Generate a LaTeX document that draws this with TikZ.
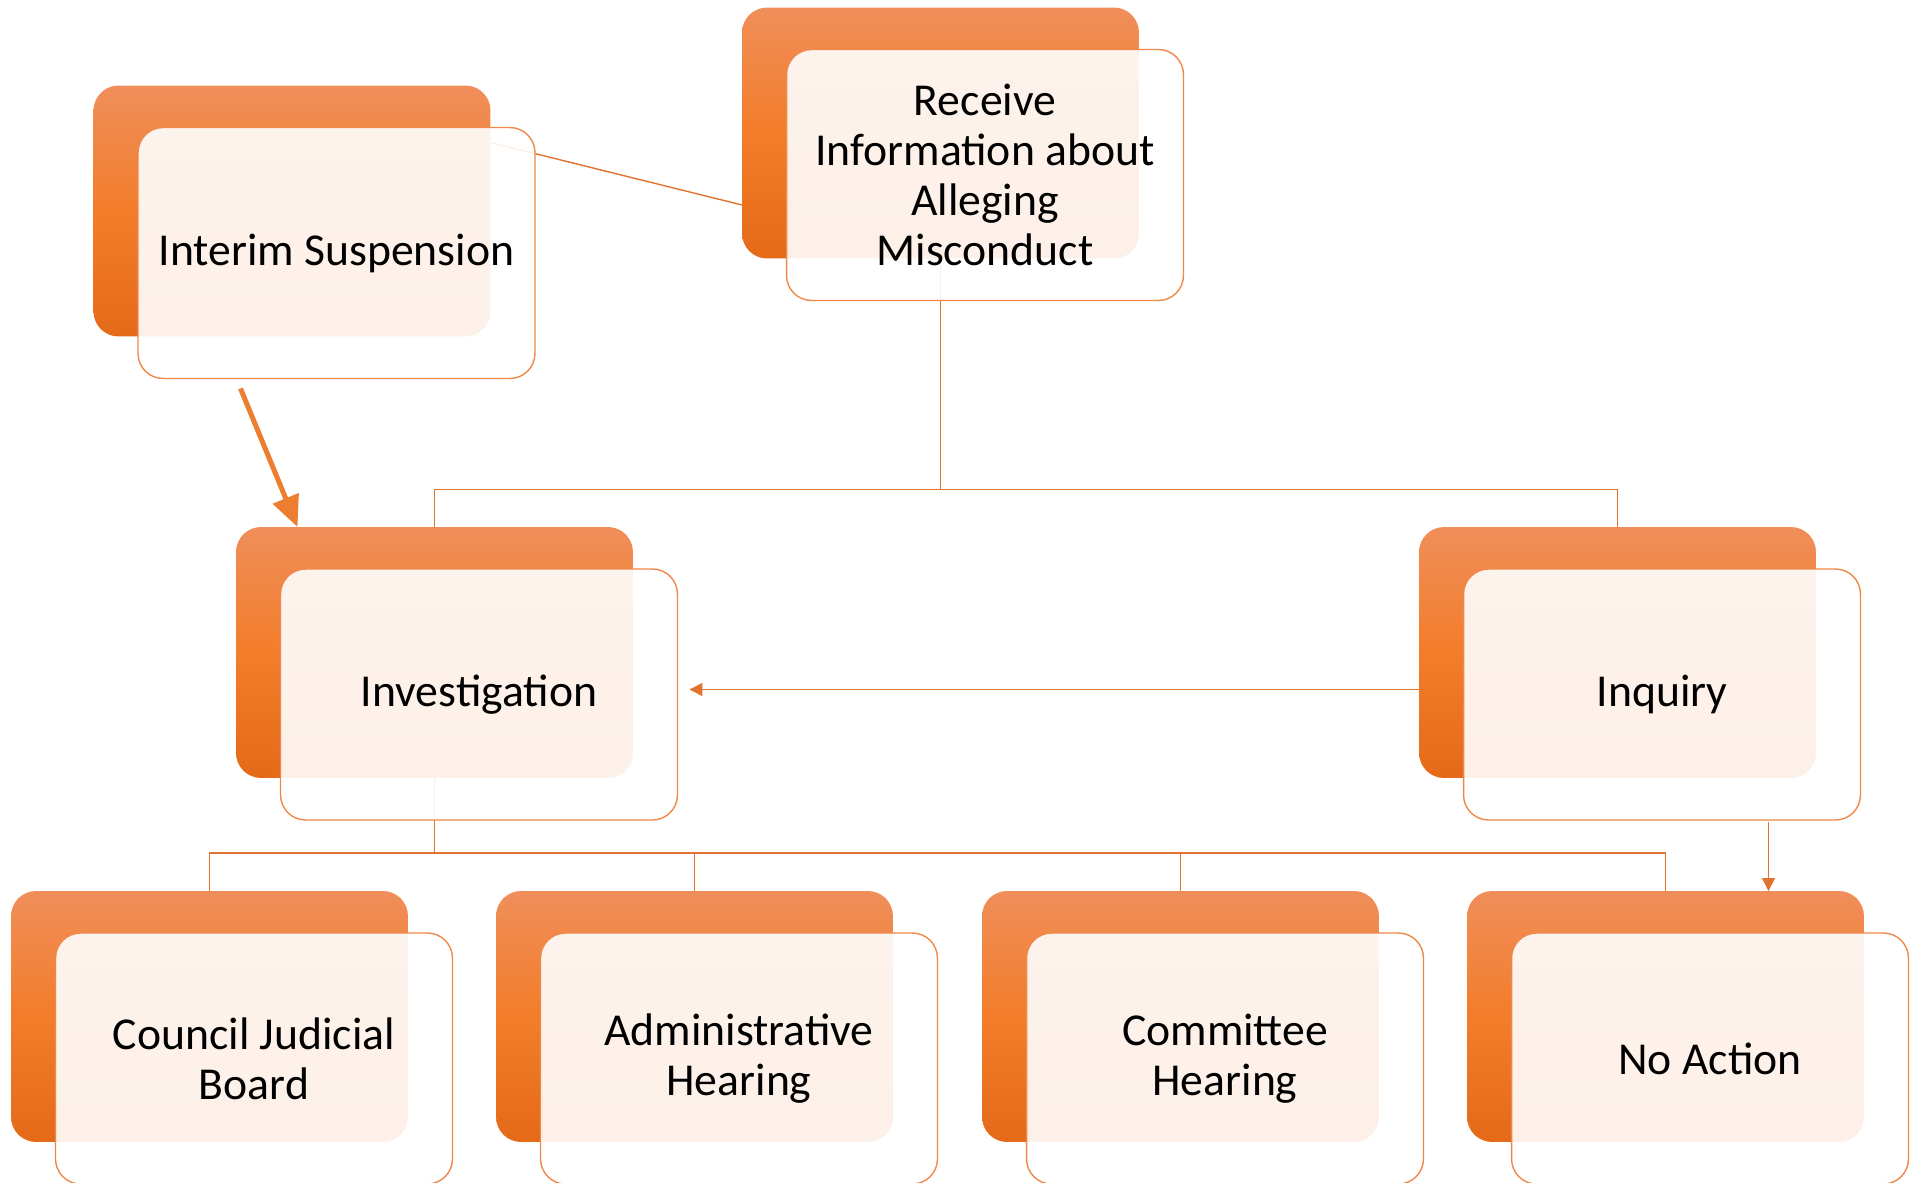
\documentclass[tikz,border=0pt]{standalone}
\usepackage{fontspec}
\setmainfont{Carlito}
\usepackage{xcolor}
\usepackage{tikz}
\usetikzlibrary{positioning, calc, arrows.meta}

\definecolor{accent}{HTML}{ED7D31}
\definecolor{backtop}{HTML}{F08E5A}
\definecolor{backmid}{HTML}{F27D2A}
\definecolor{backbot}{HTML}{E46A18}
\definecolor{edgec}{HTML}{F0884A}
\definecolor{linkc}{HTML}{E07330}

\pgfdeclarelayer{bg}
\pgfsetlayers{bg,main}

\tikzset{
  backbox/.style={rounded corners=0.5cm, minimum width=7.94cm, minimum height=5.02cm,
    inner sep=0pt, outer sep=0pt, top color=backtop, bottom color=backbot, middle color=backmid},
  frontbox/.style={rounded corners=0.5cm, minimum width=7.94cm, minimum height=5.02cm,
    inner sep=0pt, outer sep=0pt, draw=edgec, line width=0.8pt, fill=white, fill opacity=0.9,
    text opacity=1, align=center, font=\fontsize{26}{28.4}\selectfont},
  link/.style={draw=linkc, line width=0.8pt},
  thinarrow/.style={link, -{Triangle[length=0.26cm, width=0.26cm]}},
  bigarrow/.style={draw=accent, line width=0.1cm, -{Triangle[length=0.62cm, width=0.54cm]}}
}

\begin{document}
\begin{tikzpicture}[x=0.02cm, y=-0.02cm]
  \useasboundingbox (0,0) rectangle (1917,1183);
  % Top: report and interim suspension
  \node[backbox] (recvB) at (940.5,133) {};
  \node[frontbox] (recv) at ($(recvB)+(44.5,42)$) {Receive\\Information about\\Alleging\\Misconduct};
  \node[backbox] (suspB) at (292,211) {};
  \node[frontbox] (susp) at ($(suspB)+(44.5,42)$) {Interim Suspension};
  % Middle row
  \node[backbox] (invB) at (434.5,652.5) {};
  \node[frontbox] (inv) at ($(invB)+(44.5,42)$) {Investigation};
  \node[backbox] (inqB) at (1617.5,652.5) {};
  \node[frontbox] (inq) at ($(inqB)+(44.5,42)$) {Inquiry};
  % Bottom row: outcomes
  \node[backbox] (cjbB) at (209.5,1016.5) {};
  \node[frontbox] (cjb) at ($(cjbB)+(44.5,42)$) {Council Judicial\\Board};
  \node[backbox] (ahB) at (694.5,1016.5) {};
  \node[frontbox] (ah) at ($(ahB)+(44.5,42)$) {Administrative\\Hearing};
  \node[backbox] (chB) at (1180.5,1016.5) {};
  \node[frontbox] (ch) at ($(chB)+(44.5,42)$) {Committee\\Hearing};
  \node[backbox] (naB) at (1665.5,1016.5) {};
  \node[frontbox] (na) at ($(naB)+(44.5,42)$) {No Action};

  % Connectors, behind the boxes
  \begin{pgfonlayer}{bg}
    \coordinate (bus1) at ($(recvB.south)+(0,231)$);
    \coordinate (bus2) at ($(invB.south)+(0,75)$);
    \draw[link] (suspB.north east) ++(0,57) -- ($(recvB.west)+(0,72)$);
    \draw[link] (recvB.south) -- (bus1);
    \draw[link] (invB.north) |- (bus1) -| (inqB.north);
    \draw[link] (invB.south) -- (bus2);
    \foreach \b in {cjbB, ahB, chB, naB}
      \draw[link] (bus2) -| (\b.north);
    \coordinate (invIn) at ($(inv.east)+(12,-5)$);
    \draw[thinarrow] (inqB.west |- invIn) -- (invIn);
    \coordinate (inqOut) at ($(inq.south)+(106.5,2)$);
    \draw[thinarrow] (inqOut) -- (inqOut |- naB.north);
    \draw[bigarrow] ($(susp.south)+(-96,10)$) -- ($(invB.north)+(-137,0)$);
  \end{pgfonlayer}
\end{tikzpicture}
\end{document}
